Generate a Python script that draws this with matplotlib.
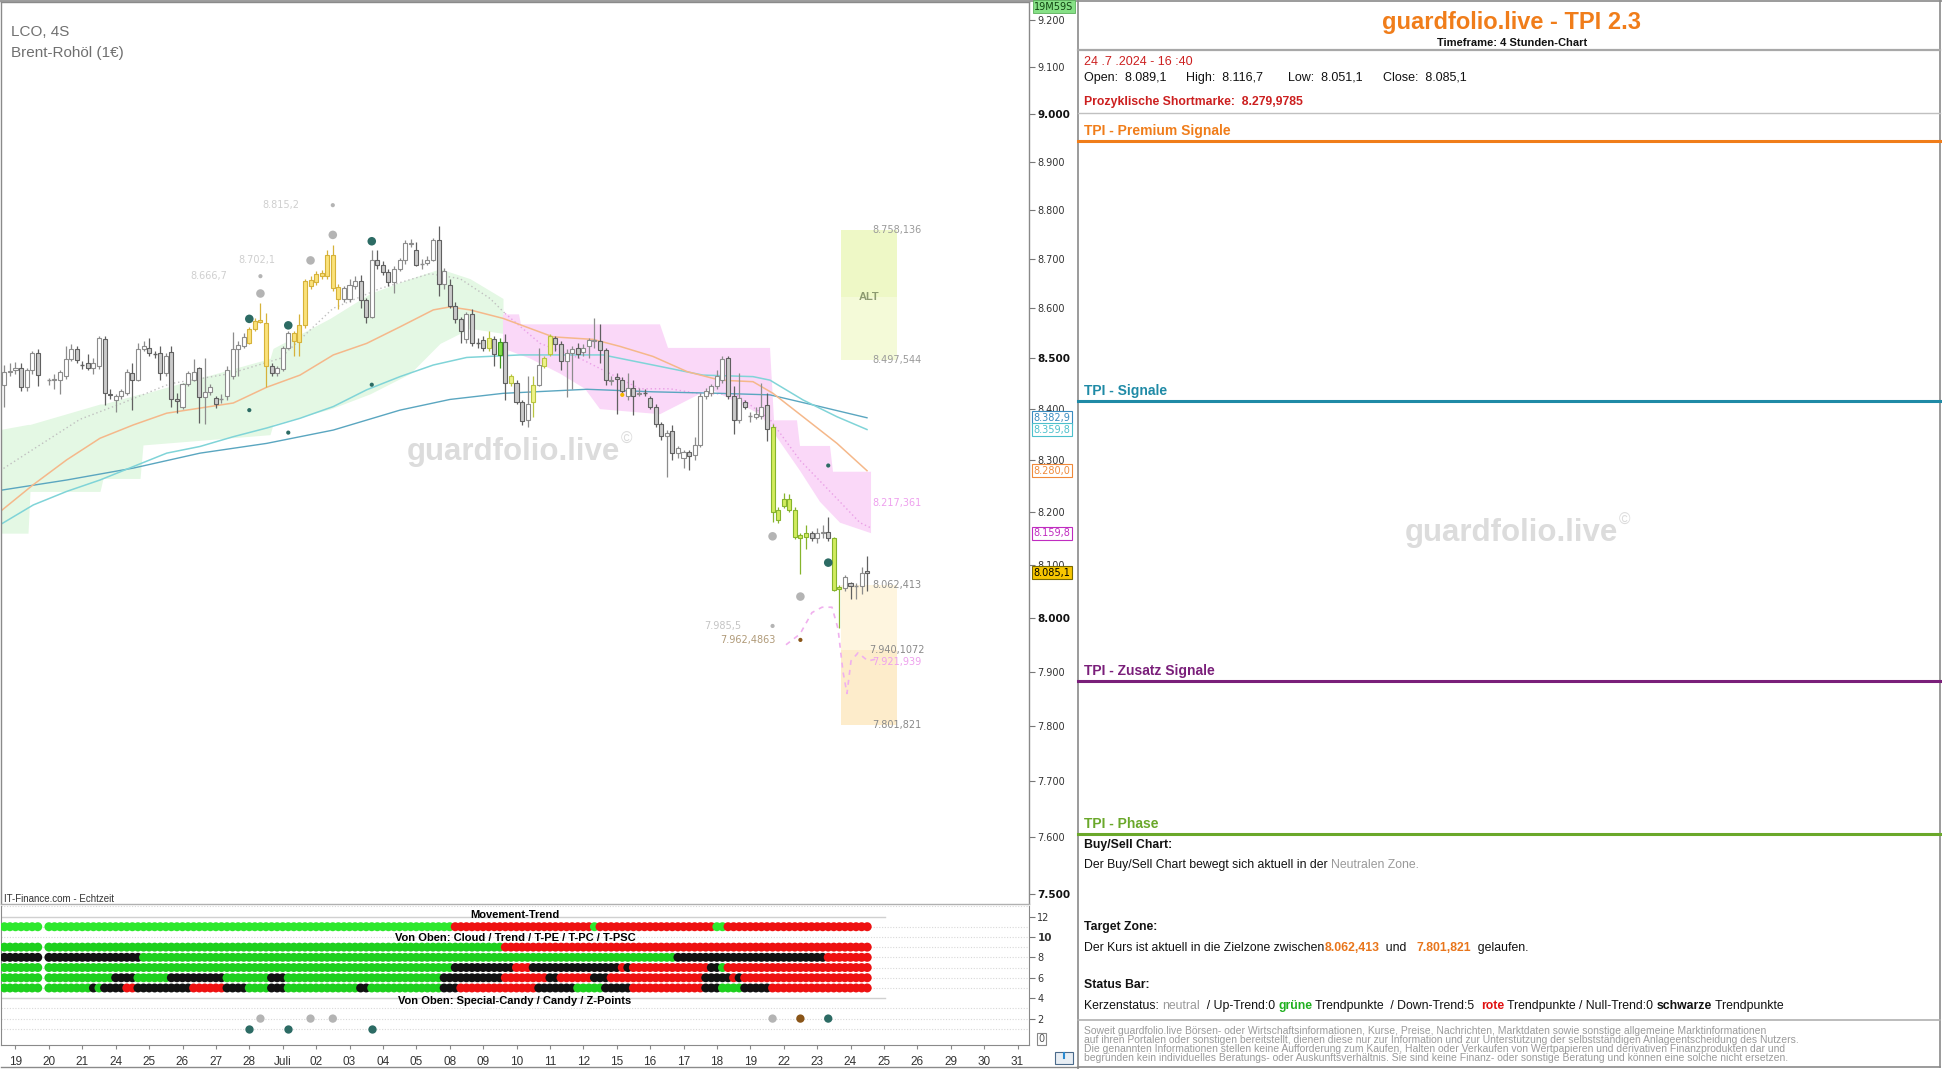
import matplotlib
matplotlib.use("Agg")
import matplotlib.pyplot as plt
import matplotlib.ticker as mticker
from matplotlib.patches import Rectangle
from matplotlib.transforms import blended_transform_factory
import numpy as np

W, H = 1942, 1069
SANS = ['Liberation Sans', 'DejaVu Sans']
VERD = ['DejaVu Sans']

# ------------------------------------------------------------------ data
day_labels = ["19", "20", "21", "24", "25", "26", "27", "28", "Juli", "02", "03", "04",
              "05", "08", "09", "10", "11", "12", "15", "16", "17", "18", "19", "22",
              "23", "24", "25", "26", "29", "30", "31"]

# trading sessions (day index, first 4h slot, number of bars)
session_days = [-1, 0] + list(range(1, 25)) + [25]
session_first_slot = [4, 0] + [0] * 24 + [0]
session_bar_count = [2, 5] + [6] * 24 + [4]

opens = [8.448, 8.474,
         8.478, 8.481, 8.443, 8.477, 8.510,
         8.458, 8.458, 8.458, 8.465, 8.499, 8.518,
         8.488, 8.490, 8.481, 8.485, 8.539, 8.430,
         8.417, 8.425, 8.432, 8.471, 8.458, 8.518,
         8.521, 8.510, 8.510, 8.471, 8.513, 8.419,
         8.404, 8.450, 8.458, 8.482, 8.423, 8.434,
         8.421, 8.420, 8.425, 8.465, 8.518, 8.525,
         8.531, 8.558, 8.573, 8.571, 8.486, 8.472,
         8.479, 8.521, 8.534, 8.533, 8.566, 8.646,
         8.654, 8.666, 8.666, 8.708, 8.643, 8.618,
         8.619, 8.646, 8.656, 8.617, 8.583, 8.698,
         8.688, 8.673, 8.653, 8.679, 8.697, 8.731,
         8.719, 8.690, 8.691, 8.698, 8.738, 8.650,
         8.648, 8.605, 8.578, 8.538, 8.588, 8.531,
         8.536, 8.521, 8.539, 8.506, 8.532, 8.451,
         8.452, 8.414, 8.378, 8.413, 8.448, 8.486,
         8.508, 8.541, 8.528, 8.495, 8.511, 8.520,
         8.513, 8.525, 8.535, 8.535, 8.517, 8.456,
         8.464, 8.458, 8.425, 8.441, 8.430, 8.432,
         8.421, 8.405, 8.371, 8.348, 8.358, 8.314,
         8.305, 8.316, 8.310, 8.330, 8.425, 8.432,
         8.445, 8.458, 8.501, 8.425, 8.378, 8.413,
         8.386, 8.384, 8.386, 8.408, 8.365, 8.186,
         8.212, 8.226, 8.205, 8.150, 8.152, 8.160,
         8.150, 8.160, 8.162, 8.150, 8.055, 8.056,
         8.066, 8.060, 8.060, 8.089]
highs = [8.488, 8.490,
         8.492, 8.490, 8.482, 8.515, 8.518,
         8.462, 8.470, 8.478, 8.525, 8.528, 8.525,
         8.495, 8.508, 8.500, 8.545, 8.545, 8.440,
         8.430, 8.440, 8.480, 8.491, 8.530, 8.535,
         8.541, 8.515, 8.525, 8.510, 8.525, 8.431,
         8.452, 8.475, 8.498, 8.484, 8.500, 8.450,
         8.425, 8.430, 8.485, 8.553, 8.535, 8.550,
         8.562, 8.580, 8.611, 8.591, 8.490, 8.485,
         8.525, 8.555, 8.555, 8.588, 8.660, 8.665,
         8.675, 8.678, 8.718, 8.728, 8.650, 8.645,
         8.660, 8.665, 8.668, 8.620, 8.718, 8.718,
         8.695, 8.680, 8.685, 8.702, 8.738, 8.740,
         8.735, 8.700, 8.705, 8.742, 8.768, 8.682,
         8.660, 8.612, 8.582, 8.592, 8.598, 8.540,
         8.545, 8.555, 8.545, 8.540, 8.548, 8.470,
         8.458, 8.418, 8.465, 8.465, 8.520, 8.505,
         8.548, 8.545, 8.535, 8.518, 8.525, 8.530,
         8.528, 8.540, 8.581, 8.568, 8.520, 8.465,
         8.471, 8.464, 8.471, 8.458, 8.441, 8.440,
         8.425, 8.410, 8.375, 8.360, 8.368, 8.328,
         8.320, 8.320, 8.345, 8.431, 8.441, 8.450,
         8.478, 8.505, 8.505, 8.445, 8.471, 8.418,
         8.395, 8.405, 8.451, 8.431, 8.370, 8.210,
         8.236, 8.235, 8.210, 8.160, 8.175, 8.165,
         8.170, 8.175, 8.190, 8.152, 8.062, 8.080,
         8.068, 8.066, 8.095, 8.117]
lows = [8.405, 8.465,
        8.470, 8.436, 8.435, 8.470, 8.445,
        8.448, 8.440, 8.430, 8.460, 8.495, 8.490,
        8.480, 8.478, 8.470, 8.480, 8.408, 8.420,
        8.395, 8.420, 8.428, 8.398, 8.455, 8.515,
        8.505, 8.500, 8.458, 8.465, 8.404, 8.393,
        8.400, 8.445, 8.455, 8.372, 8.371, 8.428,
        8.402, 8.412, 8.418, 8.460, 8.465, 8.520,
        8.528, 8.555, 8.570, 8.444, 8.465, 8.465,
        8.475, 8.518, 8.505, 8.505, 8.560, 8.640,
        8.648, 8.660, 8.660, 8.635, 8.598, 8.612,
        8.612, 8.640, 8.601, 8.571, 8.580, 8.680,
        8.668, 8.645, 8.631, 8.675, 8.690, 8.725,
        8.685, 8.680, 8.688, 8.695, 8.625, 8.640,
        8.600, 8.570, 8.531, 8.530, 8.525, 8.520,
        8.515, 8.515, 8.485, 8.481, 8.418, 8.445,
        8.410, 8.368, 8.365, 8.385, 8.445, 8.482,
        8.505, 8.515, 8.478, 8.424, 8.440, 8.500,
        8.505, 8.500, 8.520, 8.491, 8.448, 8.448,
        8.391, 8.430, 8.418, 8.388, 8.425, 8.425,
        8.400, 8.365, 8.340, 8.268, 8.301, 8.305,
        8.285, 8.281, 8.300, 8.326, 8.420, 8.425,
        8.440, 8.452, 8.420, 8.351, 8.372, 8.400,
        8.375, 8.380, 8.380, 8.338, 8.182, 8.180,
        8.208, 8.200, 8.148, 8.082, 8.130, 8.145,
        8.142, 8.150, 8.145, 8.050, 7.981, 8.050,
        8.035, 8.035, 8.045, 8.051]
closes = [8.473, 8.476,
          8.482, 8.443, 8.477, 8.510, 8.467,
          8.459, 8.460, 8.474, 8.499, 8.518, 8.497,
          8.487, 8.481, 8.490, 8.541, 8.432, 8.428,
          8.426, 8.435, 8.474, 8.458, 8.519, 8.525,
          8.510, 8.509, 8.471, 8.505, 8.419, 8.415,
          8.450, 8.471, 8.473, 8.423, 8.434, 8.443,
          8.410, 8.421, 8.478, 8.518, 8.526, 8.543,
          8.558, 8.575, 8.577, 8.486, 8.471, 8.481,
          8.521, 8.551, 8.551, 8.566, 8.656, 8.658,
          8.670, 8.671, 8.708, 8.641, 8.619, 8.641,
          8.648, 8.655, 8.617, 8.583, 8.697, 8.687,
          8.673, 8.653, 8.679, 8.697, 8.733, 8.733,
          8.688, 8.691, 8.698, 8.738, 8.650, 8.675,
          8.605, 8.578, 8.555, 8.588, 8.530, 8.530,
          8.521, 8.541, 8.508, 8.532, 8.451, 8.465,
          8.414, 8.376, 8.410, 8.448, 8.488, 8.501,
          8.545, 8.528, 8.495, 8.511, 8.518, 8.508,
          8.520, 8.537, 8.537, 8.517, 8.458, 8.458,
          8.459, 8.435, 8.441, 8.425, 8.432, 8.431,
          8.405, 8.371, 8.348, 8.353, 8.314, 8.324,
          8.316, 8.308, 8.330, 8.425, 8.435, 8.445,
          8.465, 8.498, 8.425, 8.378, 8.421, 8.405,
          8.386, 8.390, 8.404, 8.361, 8.200, 8.205,
          8.226, 8.205, 8.152, 8.156, 8.160, 8.150,
          8.160, 8.162, 8.150, 8.053, 8.058, 8.076,
          8.060, 8.061, 8.085, 8.085]
# candle colouring: n normal, y yellow, p pale, G green, L lime
candle_style_runs = [('n', 43), ('y', 4), ('n', 4), ('y', 9), ('n', 26), ('p', 1), ('n', 1),
                     ('G', 1), ('n', 1), ('p', 1), ('n', 3), ('p', 1), ('n', 1), ('p', 2),
                     ('n', 39), ('L', 7), ('n', 4), ('L', 2), ('n', 5)]

# moving averages (day position, price)
ema_orange_x = [-0.464, 0.533, 1.533, 2.530, 3.527, 4.527, 5.524, 6.521, 7.521, 8.518, 9.515,
                10.515, 11.512, 12.509, 13.009, 13.608, 14.596, 16.093, 17.290, 18.099,
                19.087, 20.105, 21.093, 22.081, 22.680, 23.578, 24.596, 25.494]
ema_orange = [8.201, 8.253, 8.301, 8.343, 8.369, 8.392, 8.402, 8.412, 8.443, 8.467, 8.507,
              8.530, 8.563, 8.597, 8.603, 8.597, 8.580, 8.543, 8.538, 8.524, 8.504, 8.474,
              8.457, 8.454, 8.431, 8.385, 8.333, 8.280]
ema_cyan_x = [-0.464, 0.533, 1.533, 2.530, 3.527, 4.527, 5.524, 6.521, 7.521, 8.518, 9.515,
              10.515, 11.512, 12.509, 13.509, 15.105, 17.590, 19.087, 20.584, 22.081,
              22.590, 23.578, 24.596, 25.494]
ema_cyan = [8.176, 8.214, 8.240, 8.262, 8.288, 8.314, 8.327, 8.346, 8.363, 8.382, 8.405,
            8.438, 8.464, 8.487, 8.502, 8.507, 8.507, 8.487, 8.467, 8.464, 8.457, 8.418,
            8.385, 8.360]
ema_teal_x = [-0.464, 1.533, 3.527, 5.524, 7.521, 9.515, 11.512, 13.009, 14.596, 17.111,
              19.087, 21.093, 22.590, 24.087, 25.494]
ema_teal = [8.242, 8.262, 8.285, 8.314, 8.333, 8.359, 8.398, 8.419, 8.431, 8.439, 8.434,
            8.431, 8.428, 8.405, 8.383]

# clouds
green_cloud_x = [-0.464, 0.374, 0.434, 2.530, 2.620, 3.728, 3.817, 7.620, 7.710, 9.416,
                 10.614, 11.811, 12.710, 13.608, 14.596]
green_cloud_top = [8.36, 8.37, 8.37, 8.41, 8.41, 8.43, 8.43, 8.50, 8.52, 8.58, 8.63, 8.66,
                   8.68, 8.66, 8.62]
green_cloud_bottom = [8.16, 8.16, 8.24, 8.24, 8.265, 8.265, 8.33, 8.35, 8.37, 8.40, 8.43,
                      8.47, 8.53, 8.56, 8.55]
pink_top_x = [14.596, 15.075, 15.135, 19.296, 19.536, 22.590, 22.710, 23.398, 23.488,
              24.386, 24.476, 25.614]
pink_top = [8.588, 8.588, 8.568, 8.568, 8.521, 8.521, 8.378, 8.378, 8.328, 8.328, 8.278, 8.278]
pink_bottom_x = [14.596, 15.404, 16.302, 17.051, 17.500, 19.296, 20.195, 20.793, 21.392,
                 22.290, 22.740, 23.488, 24.087, 24.686, 25.614]
pink_bottom = [8.52, 8.50, 8.47, 8.44, 8.40, 8.39, 8.42, 8.44, 8.42, 8.39, 8.35, 8.28, 8.22,
               8.18, 8.16]
base_line_x = [-0.464, 0.734, 1.931, 3.129, 4.626, 6.422, 7.919, 9.506, 10.913, 12.410,
               13.308, 14.207, 14.656]
base_line = [8.28, 8.33, 8.38, 8.41, 8.45, 8.47, 8.50, 8.60, 8.64, 8.67, 8.66, 8.62, 8.59]
base_line2_x = [14.656, 15.704, 16.901, 17.799, 18.698, 19.596, 20.494, 21.542, 22.590,
                23.488, 24.386, 25.284, 25.614]
base_line2 = [8.59, 8.53, 8.50, 8.47, 8.44, 8.44, 8.43, 8.43, 8.38, 8.30, 8.24, 8.18, 8.17]
forecast_x = [23.069, 23.488, 23.847, 24.147, 24.446, 24.626, 24.775, 24.895, 25.015, 25.225,
              25.524, 25.883]
forecast = [7.95, 7.97, 8.01, 8.02, 8.02, 7.98, 7.90, 7.86, 7.92, 7.935, 7.92, 7.925]

# zones
alt_zone = [8.758136, 8.497544]
alt_labels = ["8.758,136", "8.497,544"]
target_zone = [8.062413, 7.9401072, 7.801821]
target_labels = ["8.062,413", "7.940,1072", "7.801,821"]
extra_levels = [8.217361, 7.921939]
extra_labels = ["8.217,361", "7.921,939"]

# Z-points / candies
zp_big_idx = [43, 45, 50, 54, 58, 65, 137, 142, 147]
zp_big_price = [8.579, 8.630, 8.566, 8.697, 8.749, 8.736, 8.154, 8.040, 8.104]
zp_big_kind = ['t', 'g', 't', 'g', 'g', 't', 'g', 'g', 't']
zp_small_idx = [43, 45, 50, 58, 65, 137, 142, 147, 110]
zp_small_price = [8.398, 8.665, 8.354, 8.810, 8.448, 7.985, 7.959, 8.290, 8.428]
zp_small_kind = ['t', 'g', 't', 'g', 't', 'g', 'b', 't', 'y']
zp_label_idx = [45, 54, 58, 137, 142]
zp_label_price = [8.665, 8.697, 8.810, 7.985, 7.959]
zp_label_text = ["8.666,7", "8.702,1", "8.815,2", "7.985,5", "7.962,4863"]

# price axis
price_ticks = [9.2, 9.1, 9.0, 8.9, 8.8, 8.7, 8.6, 8.5, 8.4, 8.3, 8.2, 8.1, 8.0, 7.9, 7.8, 7.7, 7.6, 7.5]
price_tick_labels = ["9.200", "9.100", "9.000", "8.900", "8.800", "8.700", "8.600", "8.500",
                     "8.400", "8.300", "8.200", "8.100", "8.000", "7.900", "7.800", "7.700",
                     "7.600", "7.500"]
bold_price_labels = ["9.000", "8.500", "8.000", "7.500"]
axis_marker_values = [8.3829, 8.3598, 8.2800, 8.1598, 8.0851]
axis_marker_labels = ["8.382,9", "8.359,8", "8.280,0", "8.159,8", "8.085,1"]
axis_marker_colors = ['#3a8cc0', '#4cc0cc', '#f08a3a', '#c02cc0', '#000000']

# indicator rows (runs of colour codes per bar)
movement_runs = [('g', 80), ('r', 25), ('g', 1), ('r', 21), ('g', 2), ('r', 26)]
cloud_runs = [('g', 89), ('r', 66)]
trend_runs = [('k', 24), ('g', 96), ('k', 27), ('r', 8)]
tpe_runs = [('g', 80), ('k', 11), ('r', 3), ('k', 16), ('r', 1), ('k', 1), ('r', 14), ('k', 2),
            ('g', 1), ('r', 26)]
tpc_runs = [('g', 19), ('k', 4), ('g', 6), ('k', 10), ('g', 8), ('k', 3), ('g', 28), ('k', 11),
            ('r', 8), ('k', 2), ('r', 6), ('k', 3), ('r', 17), ('k', 5), ('r', 1), ('k', 1),
            ('r', 23)]
tpsc_runs = [('g', 15), ('k', 1), ('g', 1), ('k', 4), ('r', 2), ('k', 10), ('r', 6), ('k', 4),
             ('g', 4), ('k', 3), ('g', 13), ('k', 2), ('g', 13), ('k', 3), ('r', 14), ('k', 7),
             ('g', 5), ('k', 5), ('r', 13), ('k', 3), ('g', 4), ('k', 5), ('r', 18)]
row_levels = [11, 9, 8, 7, 6, 5]
candy_idx = [45, 54, 58, 137, 142, 147]
candy_kind = ['g', 'g', 'g', 'g', 'b', 't']
zpoint_idx = [43, 50, 65]
ind_ticks = [12, 10, 8, 6, 4, 2]

# ------------------------------------------------------------------ helpers
def expand(runs):
    out = []
    for c, n in runs:
        out += [c] * n
    return out

bar_x = []
for d, s0, n in zip(session_days, session_first_slot, session_bar_count):
    for k in range(n):
        bar_x.append(d + (s0 + k) / 6.0)
bar_x = np.array(bar_x)
styles = expand(candle_style_runs)

def rect(x0, y0, x1, y1):
    return [x0 / W, 1 - y1 / H, (x1 - x0) / W, (y1 - y0) / H]

fig = plt.figure(figsize=(W / 100, H / 100), dpi=100)
fig.patch.set_facecolor('white')
renderer = fig.canvas.get_renderer()

X0 = (1 - 15.5) / 33.4
X1 = (1029 - 15.5) / 33.4

# ------------------------------------------------------------------ price panel
ax = fig.add_axes(rect(1, 2, 1029, 904))
ax.set_yscale('log')
ax.set_xlim(X0, X1)
ax.set_ylim(7.4827, 9.2383)

ax.fill_between(green_cloud_x, green_cloud_bottom, green_cloud_top, color='#e4f8e4', lw=0, zorder=1)
poly_x = list(pink_top_x) + list(pink_bottom_x)[::-1]
poly_y = list(pink_top) + list(pink_bottom)[::-1]
ax.fill(poly_x, poly_y, color='#fad8f8', lw=0, zorder=1)
ax.plot(base_line_x, base_line, color='#c0c0c0', lw=1.0, ls=(0, (1, 2)), zorder=2)
ax.plot(base_line2_x, base_line2, color='#e9a0e6', lw=1.0, ls=(0, (1, 2)), zorder=2)
ax.plot(forecast_x, forecast, color='#f0b0ee', lw=1.2, ls=(0, (3, 3)), zorder=2)

ax.plot(ema_teal_x, ema_teal, color='#5aa6c0', lw=1.0, zorder=2)
ax.plot(ema_cyan_x, ema_cyan, color='#80d4d8', lw=1.1, zorder=2)
ax.plot(ema_orange_x, ema_orange, color='#f5b88a', lw=1.1, zorder=2)

z0, z1 = 24.716, 26.392
ax.add_patch(Rectangle((z0, 8.623), z1 - z0, alt_zone[0] - 8.623, fc='#eef8c6', ec='none', zorder=1))
ax.add_patch(Rectangle((z0, alt_zone[1]), z1 - z0, 8.623 - alt_zone[1], fc='#f4fad8', ec='none', zorder=1))
ax.text((z0 + z1) / 2, 8.623, "ALT", ha='center', va='center', fontsize=8, fontweight='bold',
        color='#8c9a70', family=SANS, zorder=3)
ax.add_patch(Rectangle((z0, target_zone[1]), z1 - z0, target_zone[0] - target_zone[1],
                       fc='#fef5df', ec='none', zorder=1))
ax.add_patch(Rectangle((z0, target_zone[2]), z1 - z0, target_zone[1] - target_zone[2],
                       fc='#fdeccb', ec='none', zorder=1))
lx = 25.64
for v, t in zip(alt_zone, alt_labels):
    ax.text(lx, v, t, fontsize=7, color='#9a9a9a', family=VERD, va='center', zorder=5)
ax.text(lx, target_zone[0], target_labels[0], fontsize=7, color='#8a8a8a', family=VERD, va='center', zorder=5)
ax.text(lx - 0.09, target_zone[1], target_labels[1], fontsize=7, color='#8a8a8a', family=VERD, va='center', zorder=5)
ax.text(lx, target_zone[2], target_labels[2], fontsize=7, color='#8a8a8a', family=VERD, va='center', zorder=5)
ax.text(lx, extra_levels[0], extra_labels[0], fontsize=7, color='#eea0ee', family=VERD, va='center', zorder=5)
ax.text(lx, extra_levels[1] - 0.004, extra_labels[1], fontsize=7, color='#eea0ee', family=VERD, va='center', zorder=5)

bw = 0.12
for x, o, h, l, c, st in zip(bar_x, opens, highs, lows, closes, styles):
    if st == 'n':
        if c >= o:
            fc, ec, wc = '#ffffff', '#8c8c8c', '#8c8c8c'
        else:
            fc, ec, wc = '#cacaca', '#606060', '#606060'
    else:
        fc, ec = {'y': ('#fbe27a', '#d6b23a'), 'p': ('#eef38a', '#b8c440'),
                  'G': ('#84e04c', '#3f9a1f'), 'L': ('#d2ec5e', '#86b42c')}[st]
        wc = ec
    ax.vlines(x, l, h, color=wc, lw=0.9, zorder=3)
    lo, hi = min(o, c), max(o, c)
    if hi - lo < 0.0012:
        ax.hlines(lo, x - bw / 2, x + bw / 2, color=ec, lw=1.0, zorder=4)
    else:
        ax.add_patch(Rectangle((x - bw / 2, lo), bw, hi - lo, fc=fc, ec=ec, lw=0.8, zorder=4))

kind_col = {'t': '#2c6b64', 'g': '#b4b4b4', 'b': '#8a5518', 'y': '#f2b800'}
ax.scatter(bar_x[zp_big_idx], zp_big_price, s=38, c=[kind_col[k] for k in zp_big_kind], lw=0, zorder=6)
ax.scatter(bar_x[zp_small_idx], zp_small_price, s=9, c=[kind_col[k] for k in zp_small_kind], lw=0, zorder=6)
label_offsets = [1.0, 1.04, 0.99, 0.95, 0.74]
label_cols = ['#cfcfcf', '#cfcfcf', '#cfcfcf', '#c4c4c4', '#b09a78']
for i, p, t, off, col in zip(zp_label_idx, zp_label_price, zp_label_text, label_offsets, label_cols):
    ax.text(bar_x[i] - off, p, t, ha='right', va='center', fontsize=7, color=col, family=VERD, zorder=5)

ax.yaxis.tick_right()
ax.set_yticks(price_ticks)
ax.set_yticklabels(price_tick_labels)
ax.yaxis.set_minor_locator(mticker.NullLocator())
ax.tick_params(axis='y', which='major', length=4, width=0.8, color='#777777', pad=2,
               labelsize=7, labelcolor='#333333')
for tl in ax.get_yticklabels():
    tl.set_family(VERD)
    if tl.get_text() in bold_price_labels:
        tl.set_fontweight('bold')
        tl.set_color('#111111')
        tl.set_fontsize(7.5)
ax.set_xticks([])
for s in ax.spines.values():
    s.set_color('#8a8a8a')
    s.set_linewidth(1.0)
ax.spines['bottom'].set_color('#b0b0b0')

ax.text(0.0097, 0.967, "LCO, 4S", transform=ax.transAxes, fontsize=11, color='#707070', family=SANS, va='center')
ax.text(0.0097, 0.944, "Brent-Rohöl (1€)", transform=ax.transAxes, fontsize=11, color='#707070', family=SANS, va='center')
ax.text(0.003, 0.0055, "IT-Finance.com - Echtzeit", transform=ax.transAxes, fontsize=7, color='#333333',
        family=SANS, va='center')

trans = blended_transform_factory(ax.transAxes, ax.transData)
for v, t, col in zip(axis_marker_values, axis_marker_labels, axis_marker_colors):
    if t == "8.085,1":
        ax.text(1.0045, v, t, transform=trans, fontsize=7, color='#000000', family=VERD, va='center',
                clip_on=False, zorder=10,
                bbox=dict(boxstyle='square,pad=0.18', fc='#f7c600', ec='#7a6a00', lw=0.8))
    else:
        ax.text(1.0045, v, t, transform=trans, fontsize=7, color=col, family=VERD, va='center',
                clip_on=False, zorder=10,
                bbox=dict(boxstyle='square,pad=0.18', fc='white', ec=col, lw=0.8))

# ------------------------------------------------------------------ indicator panel
ai = fig.add_axes(rect(1, 906, 1029, 1045))
ai.set_xlim(X0, X1)
ai.set_ylim(-0.588, 13.03)
for lv in [13, 11, 10, 9, 8, 7, 6, 5, 3, 2, 1]:
    ai.axhline(lv, color='#d8d8d8', lw=0.8, ls=(0, (1, 1.5)), zorder=1)
for lv in [12, 4]:
    ai.axhline(lv, xmax=0.86, color='#d0d0d0', lw=1.0, zorder=1)
cmap_row = {'g': '#1ed01e', 'r': '#ee1111', 'k': '#111111'}
for lv, runs in zip(row_levels, [movement_runs, cloud_runs, trend_runs, tpe_runs, tpc_runs, tpsc_runs]):
    cols = expand(runs)
    if lv == 11:
        cols = ['#2ee82e' if c == 'g' else cmap_row[c] for c in cols]
    else:
        cols = [cmap_row[c] for c in cols]
    ai.scatter(bar_x, [lv] * len(bar_x), s=42, c=cols, lw=0, zorder=3)
ai.scatter(bar_x[candy_idx], [2] * len(candy_idx), s=36, c=[kind_col[k] for k in candy_kind], lw=0, zorder=3)
ai.scatter(bar_x[zpoint_idx], [1] * len(zpoint_idx), s=36, c='#2c6b64', lw=0, zorder=3)
bt = blended_transform_factory(ai.transAxes, ai.transData)
ai.text(0.5, 12.1, "Movement-Trend", transform=bt, ha='center', va='center', fontsize=8,
        fontweight='bold', family=SANS, zorder=4)
ai.text(0.5, 9.85, "Von Oben: Cloud / Trend / T-PE / T-PC / T-PSC", transform=bt,
        ha='center', va='center', fontsize=8, fontweight='bold', family=SANS, zorder=4)
ai.text(0.5, 3.75, "Von Oben: Special-Candy / Candy / Z-Points", transform=bt,
        ha='center', va='center', fontsize=8, fontweight='bold', family=SANS, zorder=4)
ai.yaxis.tick_right()
ai.set_yticks(ind_ticks)
ai.set_yticklabels([str(t) for t in ind_ticks])
ai.tick_params(axis='y', length=4, width=0.8, color='#777777', pad=2, labelsize=7, labelcolor='#333333')
for tl in ai.get_yticklabels():
    tl.set_family(VERD)
    if tl.get_text() == "10":
        tl.set_fontweight('bold')
        tl.set_fontsize(7.5)
ai.text(1.009, 0, "0", transform=bt, fontsize=7, color='#555555', family=VERD, va='center', clip_on=False,
        bbox=dict(boxstyle='square,pad=0.15', fc='white', ec='#888888', lw=0.8))
ai.set_xticks(range(len(day_labels)))
ai.set_xticklabels(day_labels)
ai.tick_params(axis='x', length=3, width=0.8, color='#888888', pad=5, labelsize=8.5, labelcolor='#333333')
for tl in ai.get_xticklabels():
    tl.set_family(SANS)
for s in ai.spines.values():
    s.set_color('#8a8a8a')
ai.spines['top'].set_visible(False)

# ------------------------------------------------------------------ pixel overlay (frames + info panel)
ao = fig.add_axes([0, 0, 1, 1], zorder=20)
ao.set_xlim(0, W)
ao.set_ylim(H, 0)
ao.axis('off')
ao.patch.set_alpha(0)


def watermark(cx, cy, size):
    t = ao.text(cx, cy, "guardfolio.live", color='#dcdcdc', fontsize=size, fontweight='bold',
                family=SANS, ha='center', va='center', zorder=0)
    bb = t.get_window_extent(renderer=renderer)
    ao.text(bb.x1 + 1, cy - size * 0.55, "©", color='#dcdcdc', fontsize=size * 0.5, family=SANS,
            ha='left', va='center', zorder=0)

watermark(513, 452, 22.5)
watermark(1511, 533, 22.5)

ao.plot([0, W], [1, 1], color='#8a8a8a', lw=1.2)
ao.plot([1078, 1078], [1, H], color='#8a8a8a', lw=1.2)
ao.plot([1940, 1940], [1, 1067], color='#8a8a8a', lw=1.2)
ao.plot([1078, 1940], [1067, 1067], color='#8a8a8a', lw=1.2)
ao.plot([1, 1078], [1067, 1067], color='#8a8a8a', lw=1.0)
ao.plot([1078, 1940], [50, 50], color='#a8a8a8', lw=1.6)
ao.plot([1078, 1940], [112.5, 112.5], color='#c0c0c0', lw=1.0)
ao.plot([1078, 1940], [1020, 1020], color='#b0b0b0', lw=1.2)
sections = [("TPI - Premium Signale", '#f07d1a', 131, 141),
            ("TPI - Signale", '#1f8aa6', 391, 400.5),
            ("TPI - Zusatz Signale", '#7a1f7a', 671, 680.5),
            ("TPI - Phase", '#6aa82a', 824.5, 834)]
for t, col, ty, ly in sections:
    ao.text(1084, ty, t, color=col, fontsize=10, fontweight='bold', family=SANS, va='center')
    ao.plot([1078, 1940], [ly, ly], color=col, lw=2.2)

ao.text(1511, 22, "guardfolio.live - TPI 2.3", color='#f07d1a', fontsize=17, fontweight='bold',
        family=SANS, ha='center', va='center')
ao.text(1512, 42.5, "Timeframe: 4 Stunden-Chart", color='#111111', fontsize=8, fontweight='bold',
        family=SANS, ha='center', va='center')
ao.text(1084, 62, "24 .7 .2024 - 16 :40", color='#cc1f1f', fontsize=9, family=SANS, va='center')
for xx, t in [(1084, "Open:  8.089,1"), (1186, "High:  8.116,7"), (1288, "Low:  8.051,1"),
              (1383, "Close:  8.085,1")]:
    ao.text(xx, 77.5, t, color='#111111', fontsize=9, family=SANS, va='center')
ao.text(1084, 102, "Prozyklische Shortmarke:  8.279,9785", color='#cc1f1f', fontsize=8.8,
        fontweight='bold', family=SANS, va='center')


def text_w(txt, **kw):
    t1 = ao.text(0, 0, txt + '|', **kw)
    w1 = t1.get_window_extent(renderer=renderer).width
    t1.remove()
    t2 = ao.text(0, 0, '|', **kw)
    w2 = t2.get_window_extent(renderer=renderer).width
    t2.remove()
    return w1 - w2


def flow(x, y, pieces, size):
    for txt, col, wt in pieces:
        kw = dict(fontsize=size, color=col, fontweight=wt, family=SANS)
        ao.text(x, y, txt, va='center', ha='left', **kw)
        x += text_w(txt, **kw)
    return x

BLK = '#111111'
BS = 8.8
ao.text(1084, 845, "Buy/Sell Chart:", color=BLK, fontsize=BS, fontweight='bold', family=SANS, va='center')
flow(1084, 865, [("Der Buy/Sell Chart bewegt sich aktuell in der ", BLK, 'normal'),
                 ("Neutralen Zone.", '#9a9a9a', 'normal')], BS)
ao.text(1084, 927, "Target Zone:", color=BLK, fontsize=BS, fontweight='bold', family=SANS, va='center')
flow(1084, 948, [("Der Kurs ist aktuell in die Zielzone zwischen", BLK, 'normal'),
                 ("8.062,413", '#e8751a', 'bold'), ("  und   ", BLK, 'normal'),
                 ("7.801,821", '#e8751a', 'bold'), ("  gelaufen.", BLK, 'normal')], BS)
ao.text(1084, 985, "Status Bar:", color=BLK, fontsize=BS, fontweight='bold', family=SANS, va='center')
flow(1084, 1006, [("Kerzenstatus: ", BLK, 'normal'), ("neutral", '#9a9a9a', 'normal'),
                  ("  / Up-Trend:0 ", BLK, 'normal'), ("grüne", '#1fb01f', 'bold'),
                  (" Trendpunkte  / Down-Trend:5  ", BLK, 'normal'), ("rote", '#e01010', 'bold'),
                  (" Trendpunkte / Null-Trend:0 ", BLK, 'normal'), ("schwarze", BLK, 'bold'),
                  (" Trendpunkte", BLK, 'normal')], BS)
disclaimer = [
    "Soweit guardfolio.live Börsen- oder Wirtschaftsinformationen, Kurse, Preise, Nachrichten, Marktdaten sowie sonstige allgemeine Marktinformationen",
    "auf ihren Portalen oder sonstigen bereitstellt, dienen diese nur zur Information und zur Unterstützung der selbstständigen Anlageentscheidung des Nutzers.",
    "Die genannten Informationen stellen keine Aufforderung zum Kaufen, Halten oder Verkaufen von Wertpapieren und derivativen Finanzprodukten dar und",
    "begründen kein individuelles Beratungs- oder Auskunftsverhältnis. Sie sind keine Finanz- oder sonstige Beratung und können eine solche nicht ersetzen.",
]
for j, line in enumerate(disclaimer):
    ao.text(1084, 1031.5 + j * 8.7, line, color='#9a9a9a', fontsize=7.5, family=SANS, va='center')

ao.text(1054, 6.5, "19M59S", fontsize=7, color='#114411', family=VERD, ha='center', va='center',
        bbox=dict(boxstyle='square,pad=0.15', fc='#86e086', ec='#5ab05a', lw=0.6))
ao.add_patch(Rectangle((1055, 1052), 18, 12, fc='#e8eef4', ec='#4a6a8a', lw=0.8))
ao.plot([1064, 1064], [1053, 1058], color='#2a8ad0', lw=1.5)

fig.savefig("out.png", dpi=100)
